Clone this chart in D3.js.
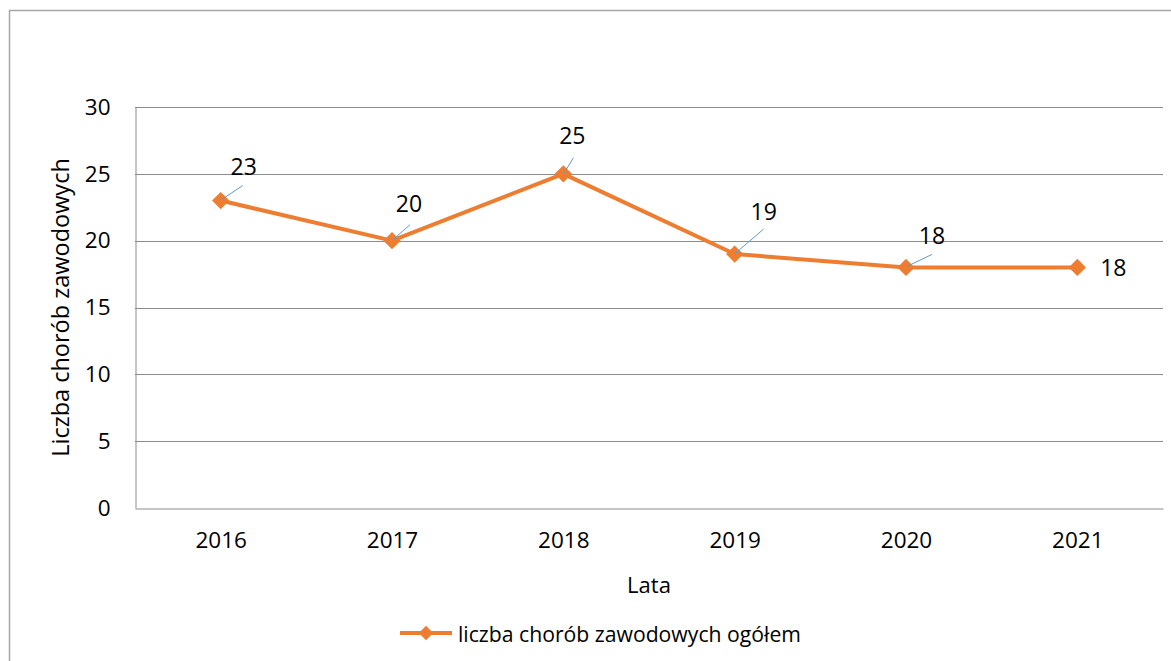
<!DOCTYPE html>
<html>
<head>
<meta charset="utf-8">
<script src="https://cdn.jsdelivr.net/npm/d3@7"></script>
<style>
  html, body { margin: 0; padding: 0; background: #fff; }
  svg { display: block; font-family: "Open Sans", "Noto Sans", sans-serif; }
</style>
</head>
<body>
<div id="chart"></div>
<script>
// Data
const years = ["2016", "2017", "2018", "2019", "2020", "2021"];
const cases = [23, 20, 25, 19, 18, 18];
const yTicks = [0, 5, 10, 15, 20, 25, 30];
const seriesName = "liczba chorób zawodowych ogółem";

// Label placement (pixel offsets from each marker, and leader line ends)
const labelOffsets = [[23, -35], [17, -38], [9, -39], [29, -43], [26, -32], [36, 0]];
const leaderEnds = [[22, -15], [18, -16], [10, -16], [29, -25], [26, -13], null];

const W = 1171, H = 661;
const margin = { left: 135, top: 107, right: 8, bottom: 153 };
const orange = "#ed7d31";

const svg = d3.select("#chart").append("svg")
    .attr("width", W).attr("height", H);

// Outer chart frame (cut off at right/bottom like the reference)
svg.append("rect")
    .attr("x", 9.5).attr("y", 10.5)
    .attr("width", 1300).attr("height", 800)
    .attr("fill", "none").attr("stroke", "#a6a6a6").attr("stroke-width", 1.5);

const x = d3.scalePoint()
    .domain(years)
    .range([margin.left, W - margin.right])
    .padding(0.5);

const y = d3.scaleLinear()
    .domain([0, 30])
    .range([H - margin.bottom, margin.top]);

// Gridlines
svg.append("g")
    .selectAll("line")
    .data(yTicks.filter(d => d > 0))
    .join("line")
    .attr("x1", margin.left).attr("x2", W - margin.right)
    .attr("y1", d => Math.round(y(d)) + 0.5).attr("y2", d => Math.round(y(d)) + 0.5)
    .attr("stroke", "#8c8c8c").attr("stroke-width", 1);

// Axes
const yAxis = svg.append("g")
    .attr("transform", `translate(${margin.left + 0.5},0)`)
    .call(d3.axisLeft(y).tickValues(yTicks).tickSize(0).tickPadding(25));
yAxis.select(".domain").attr("stroke", "#8c8c8c");
yAxis.selectAll("text").attr("font-size", 22.5).attr("fill", "#000")
    .attr("font-family", "Open Sans, sans-serif");

const xAxis = svg.append("g")
    .attr("transform", `translate(0,${Math.round(y(0)) + 0.5})`)
    .call(d3.axisBottom(x).tickSize(0).tickPadding(24));
xAxis.select(".domain").attr("stroke", "#8c8c8c");
xAxis.selectAll("text").attr("font-size", 22.5).attr("fill", "#000")
    .attr("font-family", "Open Sans, sans-serif");

// Axis titles
svg.append("text")
    .attr("transform", `translate(69,${(y(0) + y(30)) / 2}) rotate(-90)`)
    .attr("text-anchor", "middle")
    .attr("font-size", 23.5)
    .text("Liczba chorób zawodowych");

svg.append("text")
    .attr("x", (margin.left + W - margin.right) / 2)
    .attr("y", 593)
    .attr("text-anchor", "middle")
    .attr("font-size", 22)
    .text("Lata");

// Series line
const pts = years.map((yr, i) => ({ year: yr, value: cases[i], i }));
svg.append("path")
    .datum(pts)
    .attr("fill", "none")
    .attr("stroke", orange)
    .attr("stroke-width", 4)
    .attr("stroke-linejoin", "round")
    .attr("d", d3.line().x(d => x(d.year)).y(d => y(d.value)));

const diamond = d3.symbol().type(d3.symbolDiamond2).size(190);
svg.append("g")
    .selectAll("path")
    .data(pts)
    .join("path")
    .attr("transform", d => `translate(${x(d.year)},${y(d.value)})`)
    .attr("d", diamond)
    .attr("fill", orange);

// Leader lines
svg.append("g")
    .selectAll("line")
    .data(pts.filter(d => leaderEnds[d.i]))
    .join("line")
    .attr("x1", d => x(d.year) + 1).attr("y1", d => y(d.value) - 1)
    .attr("x2", d => x(d.year) + leaderEnds[d.i][0])
    .attr("y2", d => y(d.value) + leaderEnds[d.i][1])
    .attr("stroke", "#5b9bd5").attr("stroke-width", 1);

// Data labels
svg.append("g")
    .selectAll("text")
    .data(pts)
    .join("text")
    .attr("x", d => x(d.year) + labelOffsets[d.i][0])
    .attr("y", d => y(d.value) + labelOffsets[d.i][1])
    .attr("text-anchor", "middle")
    .attr("dominant-baseline", "central")
    .attr("font-size", 23)
    .text(d => d.value);

// Legend
const lg = svg.append("g").attr("transform", "translate(400,633)");
lg.append("line")
    .attr("x1", 0).attr("x2", 52)
    .attr("stroke", orange).attr("stroke-width", 4);
lg.append("path")
    .attr("transform", "translate(26,0)")
    .attr("d", d3.symbol().type(d3.symbolDiamond2).size(130))
    .attr("fill", orange);
lg.append("text")
    .attr("x", 58).attr("y", 0)
    .attr("dominant-baseline", "central")
    .attr("font-size", 21.2)
    .text(seriesName);
</script>
</body>
</html>
